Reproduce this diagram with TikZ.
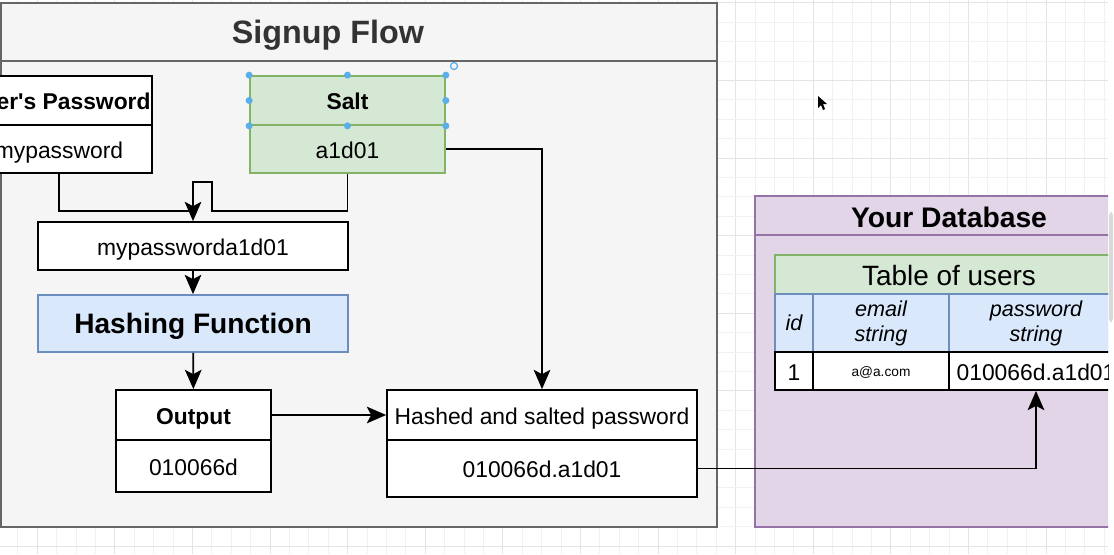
\documentclass[tikz,border=0pt]{standalone}
\usepackage{fontspec}
\setmainfont{Liberation Sans}
\usepackage{tikz}
\usetikzlibrary{arrows.meta}
\definecolor{panelfill}{HTML}{F5F5F5}
\definecolor{panelline}{HTML}{666666}
\definecolor{paneltext}{HTML}{333333}
\definecolor{dbfill}{HTML}{E1D5E7}
\definecolor{dbline}{HTML}{9673A6}
\definecolor{greenfill}{HTML}{D5E8D4}
\definecolor{greenline}{HTML}{82B366}
\definecolor{bluefill}{HTML}{DAE8FC}
\definecolor{blueline}{HTML}{6C8EBF}
\definecolor{handleblue}{HTML}{5AAEEA}
\definecolor{gridminor}{HTML}{F1F1F1}
\definecolor{gridmajor}{HTML}{E4E4E4}
\tikzstyle{wh}=[minimum width=#1*0.02cm]
\tikzstyle{ht}=[minimum height=#1*0.02cm]
\tikzstyle{cell}=[draw=black, fill=white, line width=1pt, inner sep=0pt, align=center, text height=10.8pt, text depth=0pt, font=\fontsize{13}{15}\selectfont]
\tikzstyle{boldcell}=[cell, font=\bfseries\fontsize{13}{15}\selectfont]
\tikzstyle{saltcell}=[cell, draw=greenline, fill=greenfill]
\tikzstyle{colhead}=[cell, text height=, text depth=, draw=blueline, fill=bluefill, font=\itshape\fontsize{12.3}{14.2}\selectfont]
\tikzstyle{link}=[line width=1pt, draw=black]
\tikzstyle{tip}=[-{Stealth[length=11pt,width=9.5pt,inset=2.5pt]}]

\begin{document}
\begin{tikzpicture}[x=0.02cm, y=-0.02cm]
\useasboundingbox (0,0) rectangle (1114,554);
\fill[white] (0,0) rectangle (1114,554);
\begin{scope}
\clip (0,0) rectangle (1108,554);
% the grid of the canvas
\foreach \k in {0,...,57} {
  \pgfmathsetmacro\gx{-1.6+19.4*\k}
  \pgfmathtruncatemacro\gm{mod(\k,4)}
  \ifnum\gm=2 \draw[gridmajor, line width=0.5pt] (\gx,0) -- (\gx,554);
  \else \draw[gridminor, line width=0.5pt] (\gx,0) -- (\gx,554); \fi
}
\foreach \k in {0,...,28} {
  \pgfmathsetmacro\gy{2.9+19.4*\k}
  \pgfmathtruncatemacro\gm{mod(\k,4)}
  \ifnum\gm=0 \draw[gridmajor, line width=0.5pt] (0,\gy) -- (1108,\gy);
  \else \draw[gridminor, line width=0.5pt] (0,\gy) -- (1108,\gy); \fi
}
% the two containers
\node[draw=panelline, fill=panelfill, line width=1.2pt, wh=716, ht=524] (signup) at (359,265) {};
\draw[panelline, line width=1.2pt] (1,61) -- (717,61);
\node[text=paneltext, font=\bfseries\fontsize{18.4}{22}\selectfont] (signuptitle) at (328,35) {Signup Flow};
\node[draw=dbline, fill=dbfill, line width=1pt, wh=388, ht=331] (db) at (949,361.5) {};
\draw[dbline, line width=1pt] (755,235) -- (1143,235);
\node[font=\bfseries\fontsize{16.1}{19}\selectfont] (dbtitle) at (949,217) {Your Database};
% the signup boxes
\node[boldcell, wh=186, ht=49] (userhead) at (59,100.5) {User\textquotesingle s Password};
\node[cell, wh=186, ht=48] (userbody) at (59,149) {mypassword};
\node[saltcell, font=\bfseries\fontsize{13}{15}\selectfont, wh=195, ht=49] (salthead) at (347.5,100.5) {Salt};
\node[saltcell, wh=195, ht=48] (saltbody) at (347.5,149) {a1d01};
\node[cell, wh=310, ht=48] (combined) at (193,246) {mypassworda1d01};
\node[cell, draw=blueline, fill=bluefill, font=\bfseries\fontsize{16}{19}\selectfont, text height=11.6pt, wh=310, ht=57] (hashfn) at (193,323.5) {Hashing Function};
\node[boldcell, wh=155, ht=50] (outhead) at (193.5,415) {Output};
\node[cell, wh=155, ht=52] (outbody) at (193.5,466) {010066d};
\node[cell, wh=310, ht=50] (hashhead) at (542,415) {Hashed and salted password};
\node[cell, wh=310, ht=57] (hashbody) at (542,468.5) {010066d.a1d01};
% the table of users
\node[cell, draw=greenline, fill=greenfill, font=\fontsize{15.9}{18}\selectfont, text height=12.4pt, wh=348, ht=39] (tabtitle) at (949,274.5) {Table of users};
\node[colhead, wh=38, ht=58] (idhead) at (794,323) {id};
\node[colhead, wh=136, ht=58] (emailhead) at (881,323) {email\\string};
\node[colhead, wh=174, ht=58] (pwdhead) at (1036,323) {password\\string};
\node[cell, wh=38, ht=38] (idcell) at (794,371) {1};
\node[cell, font=\fontsize{7.8}{9}\selectfont, text height=6.4pt, wh=136, ht=38] (emailcell) at (881,371) {a@a.com};
\node[cell, wh=174, ht=38] (pwdcell) at (1036,371) {010066d.a1d01};
% the connectors
\coordinate (meet) at (193,211);
\coordinate (loop) at (212,182);
\draw[link] (userbody.south) |- (meet);
\draw[link, tip] (saltbody.south) |- (loop |- meet) -- (loop) -| (combined.north);
\draw[link, tip] (combined) -- (hashfn);
\draw[link, tip] (hashfn) -- (outhead);
\draw[link, tip] (outhead) -- (hashhead);
\draw[link, tip] (saltbody.east) -| (hashhead.north);
\draw[link, tip] (hashbody.east) -| (pwdcell.south);
% selection handles on the salt box
\foreach \a in {north west, north, north east, west, east, south west, south, south east}
  \fill[handleblue] (salthead.\a) circle (3.5);
\draw[handleblue, line width=0.7pt] (454,66) circle (3.5);
% the mouse pointer
\fill[black] (818,96) -- (818,108) -- (821,105) -- (823,110) -- (825,109) -- (823,104) -- (827,104) -- cycle;
\end{scope}
\fill[gray!30, rounded corners=2pt] (1109,212) rectangle (1113,322);
\end{tikzpicture}
\end{document}
